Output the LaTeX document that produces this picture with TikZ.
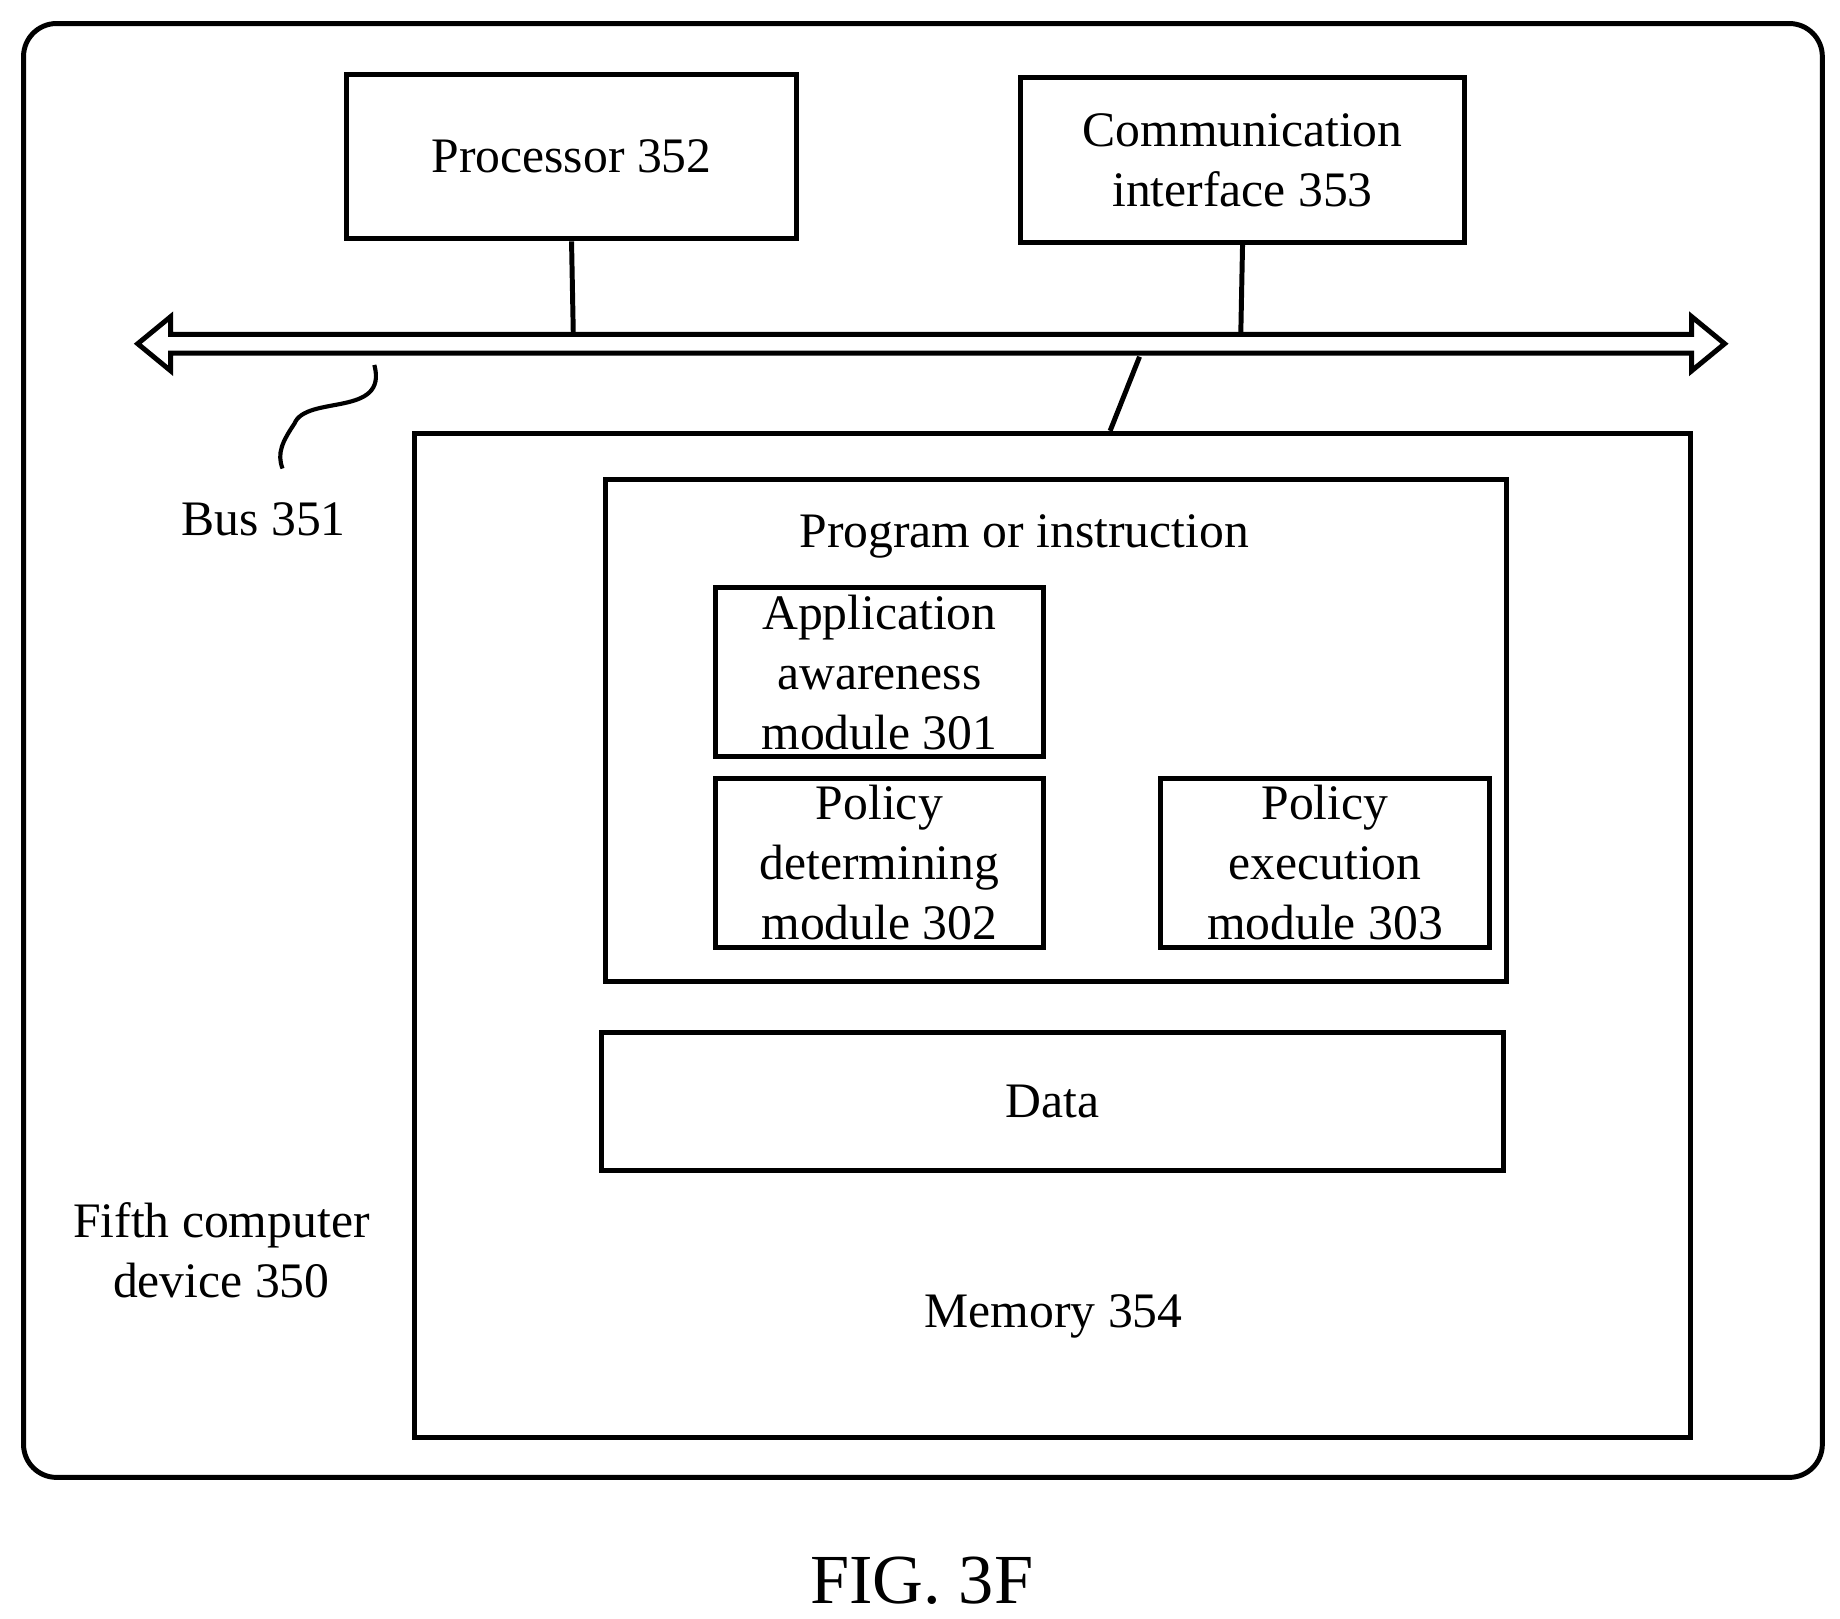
\documentclass[tikz,border=0pt]{standalone}
\usepackage{fontspec}
\setmainfont{Liberation Serif}
\begin{document}
\begin{tikzpicture}[
  box/.style={draw, line width=1.2pt, inner sep=0pt, align=center},
  lbl/.style={align=center, inner sep=0pt, font=\fontsize{12}{14.5}\selectfont}]
\useasboundingbox (0,0) rectangle (15.63,-13.75);
\node[box, rounded corners=0.28cm, minimum width=15.28cm, minimum height=12.35cm] (outer) at (7.84,-6.375) {};
\node[box, minimum width=3.83cm, minimum height=1.40cm, lbl] (proc) at (4.855,-1.33) {Processor 352};
\node[box, minimum width=3.77cm, minimum height=1.40cm, lbl] (comm) at (10.555,-1.36) {Communication\\interface 353};
\node[box, minimum width=10.84cm, minimum height=8.53cm] (mem) at (8.94,-7.945) {};
\node[box, minimum width=7.66cm, minimum height=4.27cm] (prog) at (8.97,-6.205) {};
\node[box, minimum width=2.78cm, minimum height=1.44cm, lbl] (app) at (7.47,-5.71) {Application\\awareness\\module 301};
\node[box, minimum width=2.78cm, minimum height=1.44cm, lbl] (det) at (7.47,-7.33) {Policy\\determining\\module 302};
\node[box, minimum width=2.79cm, minimum height=1.44cm, lbl] (exec) at (11.255,-7.33) {Policy\\execution\\module 303};
\node[box, minimum width=7.66cm, minimum height=1.17cm, lbl] (data) at (8.94,-9.355) {Data};
\node[lbl] (progl) at (8.70,-4.56) {Program or instruction};
\node[lbl] (meml) at (8.95,-11.18) {Memory 354};
\node[lbl] (busl) at (2.24,-4.41) {Bus 351};
\node[lbl] (devl) at (1.88,-10.62) {Fifth computer\\device 350};
\node[inner sep=0pt, font=\fontsize{17}{20}\selectfont] (fig) at (7.83,-13.43) {FIG. 3F};
% bus
\draw[line width=1.2pt, fill=white] (1.17,-2.92) -- (1.45,-2.69) -- (1.45,-2.84) -- (14.37,-2.84) -- (14.37,-2.69) -- (14.65,-2.92) -- (14.37,-3.15) -- (14.37,-3.00) -- (1.45,-3.00) -- (1.45,-3.15) -- cycle;
\coordinate (bp) at (4.87,-2.84);
\coordinate (bc) at (10.54,-2.84);
\coordinate (bm) at (9.68,-3.03);
\coordinate (bl) at (3.18,-3.10);
\coordinate (blend) at (2.40,-3.98);
\draw[line width=1.2pt] (proc.south) -- (bp);
\draw[line width=1.2pt] (comm.south) -- (bc);
\draw[line width=1.2pt] (bm) -- (9.43,-3.66);
\draw[line width=1pt] (bl) .. controls (3.30,-3.55) and (2.60,-3.35) .. (2.50,-3.60) .. controls (2.40,-3.75) and (2.35,-3.85) .. (blend);
\end{tikzpicture}
\end{document}
